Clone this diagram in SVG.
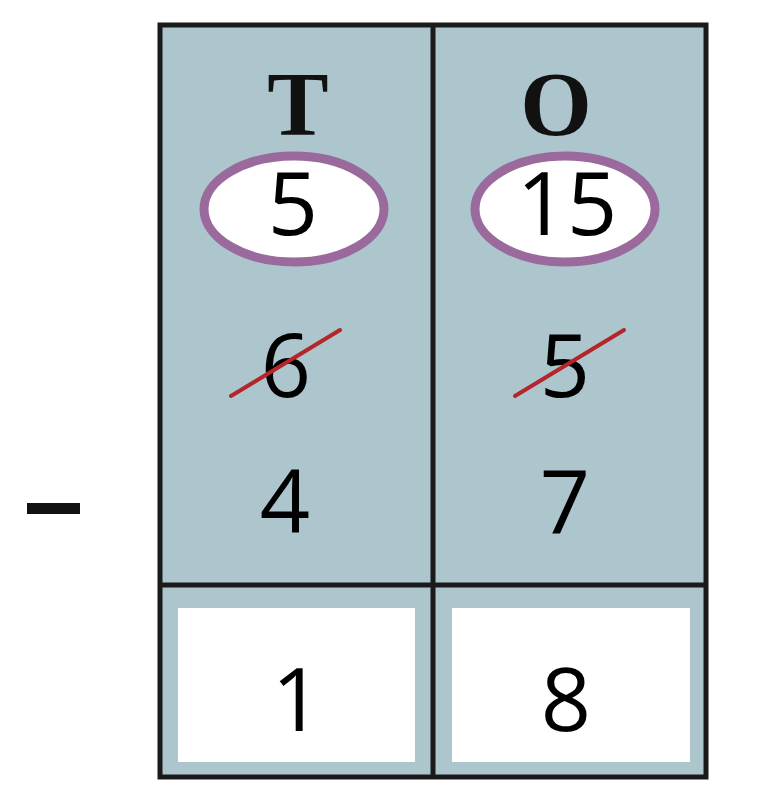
<svg xmlns="http://www.w3.org/2000/svg" width="762" height="808" viewBox="0 0 762 808">
<style>
.d{font-family:"Open Sans","Liberation Sans",sans-serif;font-size:88px;fill:#000;text-anchor:middle}
.h{font-family:"Liberation Serif",serif;font-weight:bold;font-size:92px;fill:#111;text-anchor:middle}
.ov{fill:#fff;stroke:#9b6a9c;stroke-width:9}
.x{stroke:#b3262a;stroke-width:4;stroke-linecap:round}
.ln{stroke:#1a1a1a;stroke-width:5}
</style>
<rect width="762" height="808" fill="#fff"/>
<g id="table">
<rect x="160" y="25" width="546" height="752" fill="#adc5cd" stroke="#1a1a1a" stroke-width="5"/>
<line class="ln" x1="433" y1="23" x2="433" y2="779"/>
<line class="ln" x1="160" y1="585" x2="704" y2="585"/>
<rect x="178" y="608" width="237" height="154" fill="#fff"/>
<rect x="452" y="608" width="238" height="154" fill="#fff"/>
</g>
<g id="tens">
<text class="h" x="298" y="135">T</text>
<ellipse class="ov" cx="294" cy="209" rx="90" ry="53"/>
<text class="d" x="293" y="235">5</text>
<text class="d" x="286" y="397">6</text>
<line class="x" x1="231" y1="396" x2="340" y2="330"/>
<text class="d" x="285" y="533">4</text>
<text class="d" x="297" y="731">1</text>
</g>
<g id="ones">
<text class="h" x="556" y="135">O</text>
<ellipse class="ov" cx="565" cy="209" rx="90" ry="53"/>
<text class="d" x="567" y="235">15</text>
<text class="d" x="565" y="397">5</text>
<line class="x" x1="515" y1="396" x2="624" y2="330"/>
<text class="d" x="565" y="533">7</text>
<text class="d" x="566" y="731">8</text>
</g>
<g id="minus"><rect x="27" y="503" width="53" height="11" fill="#111"/></g>
</svg>
